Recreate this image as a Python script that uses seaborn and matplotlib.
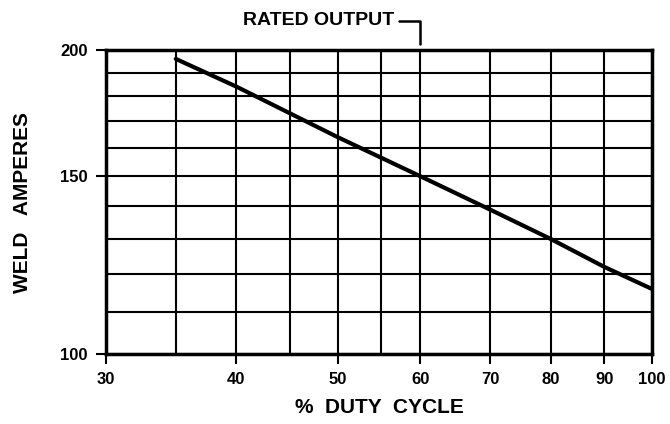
import matplotlib
matplotlib.use("Agg")
import matplotlib.pyplot as plt
from matplotlib.ticker import FixedLocator, NullLocator, NullFormatter
import pandas as pd
import seaborn as sns

# values
duty_cycle = [35, 40, 50, 60, 70, 80, 90, 100]
weld_amps = [196, 184, 164, 150, 139, 130, 122, 116]

x_ticks = [30, 40, 50, 60, 70, 80, 90, 100]
x_grid = [30, 35, 40, 45, 50, 55, 60, 70, 80, 90, 100]
y_ticks = [100, 150, 200]
y_grid = [100, 110, 120, 130, 140, 150, 160, 170, 180, 190, 200]
rated_duty = 60

sns.set_style("white", {'text.color': 'black', 'axes.labelcolor': 'black',
                        'xtick.color': 'black', 'ytick.color': 'black'})
plt.rcParams['font.family'] = ['Liberation Sans', 'DejaVu Sans']
plt.rcParams['font.weight'] = 'bold'

df = pd.DataFrame({'duty': duty_cycle, 'amps': weld_amps})

fig = plt.figure(figsize=(6.7, 4.24), dpi=100)
ax = fig.add_axes([0.158, 0.165, 0.815, 0.717])

ax.set_xscale('log')
ax.set_yscale('log')

for gx in x_grid:
    ax.axvline(gx, color='black', lw=1.5, zorder=1)
for gy in y_grid:
    ax.axhline(gy, color='black', lw=1.5, zorder=1)

sns.lineplot(data=df, x='duty', y='amps', color='black', lw=3, ax=ax, zorder=3)

ax.set_xlim(30, 100)
ax.set_ylim(100, 200)

ax.xaxis.set_major_locator(FixedLocator(x_ticks))
ax.xaxis.set_minor_locator(NullLocator())
ax.xaxis.set_minor_formatter(NullFormatter())
ax.set_xticklabels([str(t) for t in x_ticks])
ax.yaxis.set_major_locator(FixedLocator(y_ticks))
ax.yaxis.set_minor_locator(NullLocator())
ax.yaxis.set_minor_formatter(NullFormatter())
ax.set_yticklabels([str(t) for t in y_ticks])

ax.tick_params(axis='both', direction='out', length=7, width=1.5, color='black',
               labelcolor='black', labelsize=12, pad=6, bottom=True, left=True)
for lab in ax.get_xticklabels() + ax.get_yticklabels():
    lab.set_fontweight('bold')

for sp in ax.spines.values():
    sp.set_color('black')
    sp.set_linewidth(2.5)

ax.set_xlabel('%  DUTY  CYCLE', fontsize=15, fontweight='bold', labelpad=8, color='black')
ax.set_ylabel('WELD   AMPERES', fontsize=15, fontweight='bold', labelpad=20, color='black')

ax.annotate('RATED OUTPUT', xy=(rated_duty, 1.0), xycoords=('data', 'axes fraction'),
            xytext=(-19, 21), textcoords='offset points', ha='right', va='center',
            fontsize=14, fontweight='bold', color='black',
            arrowprops=dict(arrowstyle='-', color='black', lw=1.8,
                            connectionstyle='angle,angleA=0,angleB=90,rad=0',
                            relpos=(1, 0.5), shrinkA=1, shrinkB=4))

fig.savefig('out.png', dpi=100)
